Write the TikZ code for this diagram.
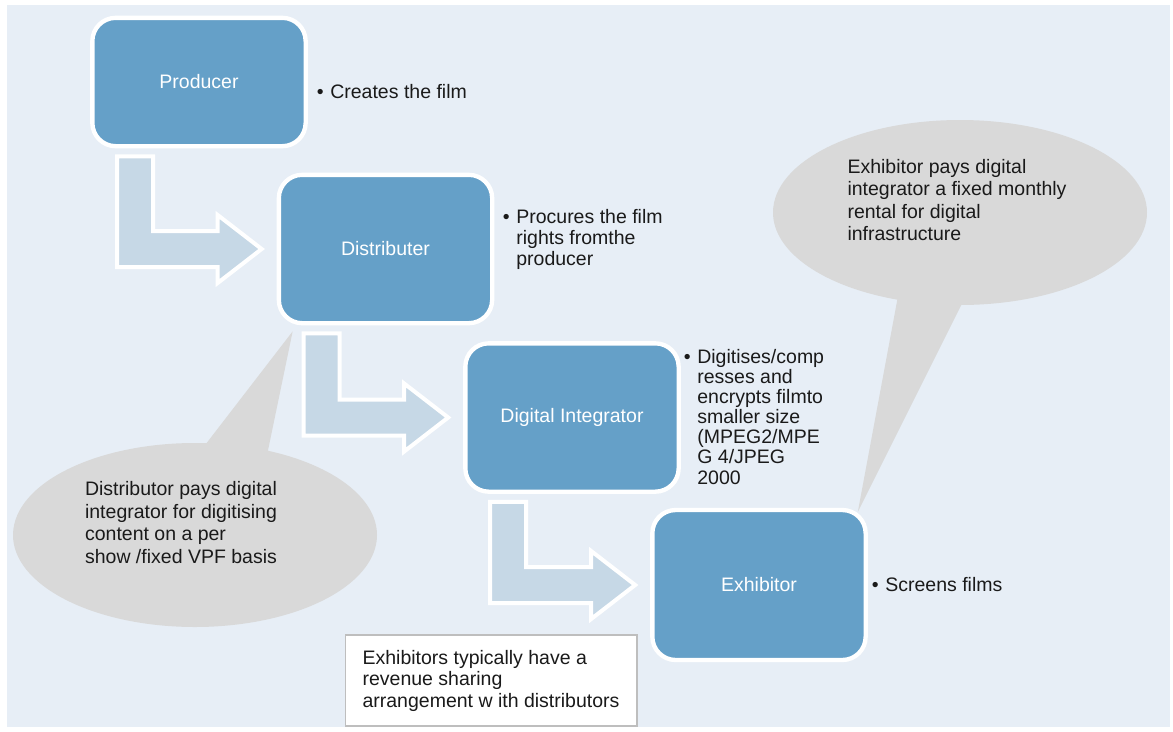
\documentclass[tikz,border=0pt]{standalone}
\usepackage{fontspec}
\setmainfont{Liberation Sans}
\usepackage{tikz}
\usetikzlibrary{shapes,shapes.callouts}
\usetikzlibrary{calc,backgrounds,positioning}
\definecolor{boxblue}{RGB}{101,160,200}
\definecolor{arrowblue}{RGB}{198,216,230}
\definecolor{pagetint}{RGB}{231,238,246}
\definecolor{bubblegray}{RGB}{217,217,217}
\definecolor{notegray}{RGB}{190,190,190}
\definecolor{inktext}{RGB}{26,26,26}
\tikzset{role node/.style={rectangle, rounded corners=14pt, draw=white, line width=2.6pt,
    fill=boxblue, text=white, minimum width=128pt, minimum height=89pt,
    font=\fontsize{11.7}{13.5}\selectfont}}
\tikzset{flow arrow/.style={fill=arrowblue, draw=white, line width=2.4pt, line join=miter}}
\tikzset{bullet text/.style={anchor=base west, align=left, inner sep=0pt, text=inktext,
    font=\fontsize{11.7}{12.6}\selectfont}}
\tikzset{note callout/.style={ellipse callout, fill=bubblegray, draw=none,
    text=inktext, callout pointer arc=20, font=\fontsize{11.7}{13.5}\selectfont}}
\tikzset{note box/.style={rectangle, draw=notegray, line width=0.8pt, fill=white, align=left,
    text=inktext, minimum width=175pt, minimum height=54.6pt,
    font=\fontsize{11.7}{12.9}\selectfont}}
\tikzset{diagram background/.style={fill=pagetint}}
\newcommand{\bul}{\llap{\textbullet\hspace{4pt}}}
\newcommand{\bentarrow}[2]{%
  \coordinate (#1top) at ($(#1.south west)+(45,8)$);
  \coordinate (#2tip) at ($(#2.west)+(-15,0)$);
  \filldraw [flow arrow] ($(#1top)+(-18,0)$) -- ($(#1top)+(18,0)$)
    -- ($(#1top |- #2tip)+(18,-18)$) -- ($(#2tip)+(-44,-18)$)
    -- ($(#2tip)+(-44,-34)$) -- (#2tip) -- ($(#2tip)+(-44,34)$)
    -- ($(#2tip)+(-44,18)$) -- ($(#1top |- #2tip)+(-18,18)$) -- cycle;}

\begin{document}
\begin{tikzpicture}
      [x=0.6pt, y=-0.6pt]
      \useasboundingbox (0,0) rectangle (1173,731);

      \node [role node, minimum height=77pt] (prod) at (199, 82)    {Producer};
      \node [role node]                      (dist) at (385.5, 249) {Distributer};
      \node [role node]                      (digi) at (572, 417.5) {Digital Integrator};
      \node [role node, minimum height=90pt] (exhi) at (759, 585)   {Exhibitor};

      % base anchor sits on the last line
      \node [bullet text] (creates)  at (330, 98)  {\bul Creates the film};
      \node [bullet text] (procures) at (516, 265) {\bul Procures the film\\rights fromthe\\producer};
      \node [bullet text, font=\fontsize{11.7}{12.1}\selectfont]
                          (digitises) at (697, 484)
            {\bul Digitises/comp\\resses and\\encrypts filmto\\smaller size\\(MPEG2/MPE\\G 4/JPEG\\2000};
      \node [bullet text] (screens)  at (885, 591) {\bul Screens films};

      \node [note box] (sharing) at (491, 680.5)
            {Exhibitors typically have a\\revenue sharing\\arrangement w ith distributors};

      \begin{pgfonlayer}{background}
        \fill [diagram background] (7, 5) rectangle (1170, 727);

        \node [note callout, minimum width=218.4pt, minimum height=110.4pt,
               callout absolute pointer={($(dist.south west)+(16,6)$)}]
              (vpf) at (195, 535)
              {\begin{tabular}{@{}l@{\hspace{16.8pt}}}Distributor pays digital\\integrator for digitising\\
               content on a per\\show /fixed VPF basis\\[12pt]\end{tabular}};
        \node [note callout, minimum width=224.4pt, minimum height=111pt,
               callout absolute pointer={($(exhi.north east)+(-10,4)$)}]
              (rental) at (960, 212.5)
              {\begin{tabular}{@{}l@{\hspace{3.6pt}}}Exhibitor pays digital\\integrator a fixed monthly\\
               rental for digital\\infrastructure\\[12pt]\end{tabular}};

        \bentarrow{prod}{dist}
        \bentarrow{dist}{digi}
        \bentarrow{digi}{exhi}
      \end{pgfonlayer}
    \end{tikzpicture}
\end{document}
